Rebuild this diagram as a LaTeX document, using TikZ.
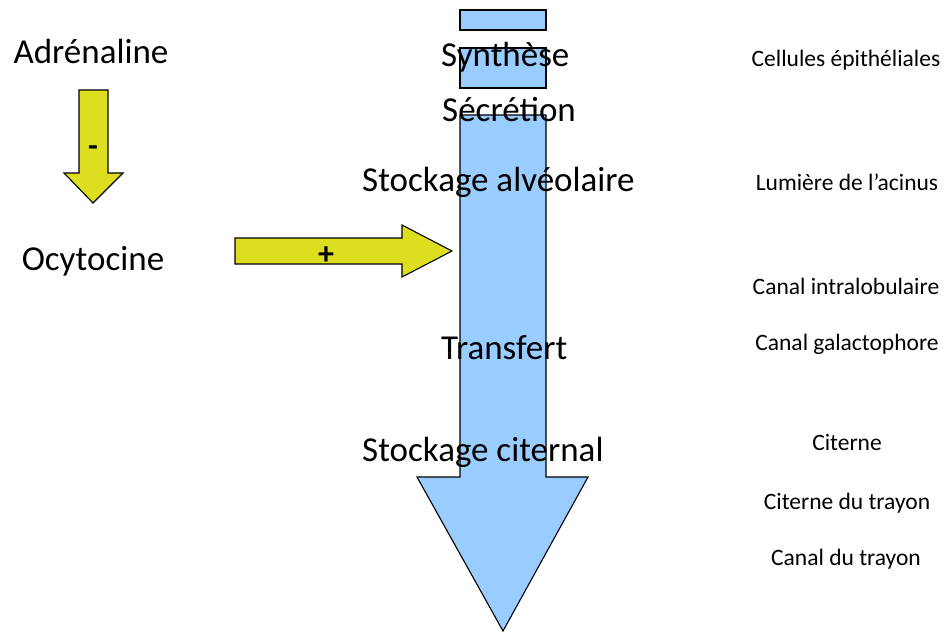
\documentclass[tikz,border=0pt]{standalone}
\usepackage{fontspec}
\setmainfont{Carlito}
\begin{document}
\begin{tikzpicture}[x=1pt,y=-1pt,
  big/.style={inner sep=0pt,font=\fontsize{35}{40}\selectfont},
  small/.style={inner sep=0pt,anchor=base,font=\fontsize{23.5}{28}\selectfont},
  sign/.style={inner sep=0pt,font=\fontsize{32}{36}\selectfont\bfseries},
  blueshape/.style={draw=black,line width=1.1pt,fill=milkblue,line join=miter},
  yellowshape/.style={draw=black,line width=1.1pt,fill=hormone,line join=miter}]
\definecolor{milkblue}{HTML}{99CCFF}
\definecolor{hormone}{HTML}{DEDE20}
\useasboundingbox (0,0) rectangle (946,633);
% blue process shapes
\draw[blueshape] (460,10) rectangle (546,30);
\draw[blueshape] (460,48) rectangle (546,88);
\draw[blueshape] (460,115) -- (546,115) -- (546,477) -- (588,477) -- (503,631)
  -- (417,477) -- (460,477) -- cycle;
% yellow arrows
\draw[yellowshape] (79,90) -- (108,90) -- (108,173) -- (123,173) -- (93,203)
  -- (64,173) -- (79,173) -- cycle;
\draw[yellowshape] (235,238) -- (402,238) -- (402,225) -- (452,251) -- (402,277)
  -- (402,264) -- (235,264) -- cycle;
\node[sign] (minus) at (93,151) {-};
\node[sign] (plus) at (326,256) {+};
% left labels
\node[big,anchor=base] (adr) at (91,63) {Adrénaline};
\node[big,anchor=base] (ocy) at (93,270) {Ocytocine};
% process labels
\node[big,anchor=base west] (syn) at (441,66) {Synthèse};
\node[big,anchor=base west] (sec) at (442,121) {Sécrétion};
\node[big,anchor=base west] (stoa) at (362,191) {Stockage alvéolaire};
\node[big,anchor=base west] (tra) at (441,359) {Transfert};
\node[big,anchor=base west] (stoc) at (362,461) {Stockage citernal};
% anatomy labels
\node[small] (l1) at (846,66) {Cellules épithéliales};
\node[small] (l2) at (847,190) {Lumière de l’acinus};
\node[small] (l3) at (846,294) {Canal intralobulaire};
\node[small] (l4) at (847,350) {Canal galactophore};
\node[small] (l5) at (847,450) {Citerne};
\node[small] (l6) at (847,509) {Citerne du trayon};
\node[small] (l7) at (846,565) {Canal du trayon};
\end{tikzpicture}
\end{document}
